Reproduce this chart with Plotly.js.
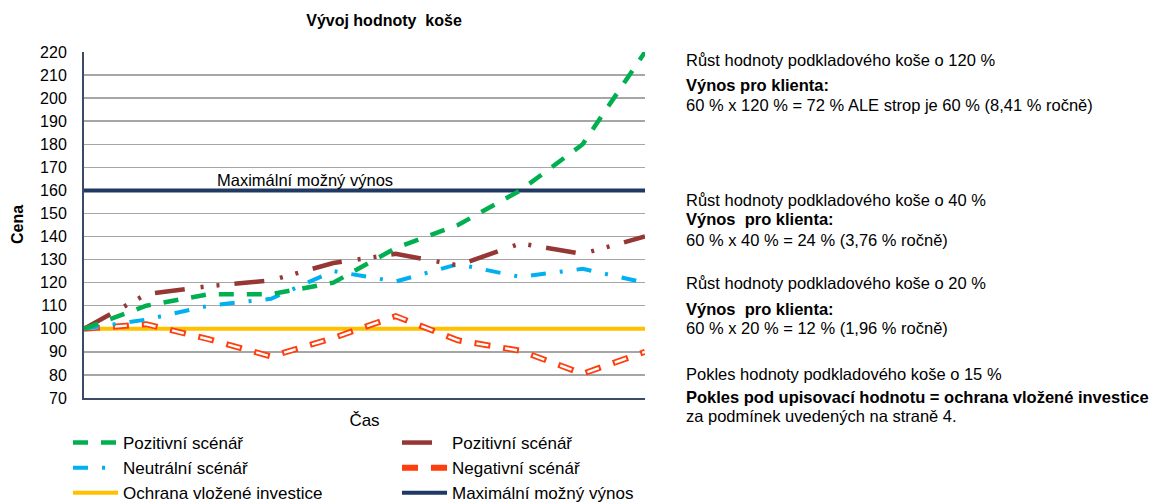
<!DOCTYPE html>
<html>
<head>
<meta charset="utf-8">
<script src="https://cdn.plot.ly/plotly-3.0.1.min.js"></script>
<style>
  body { margin: 0; background: #fff; }
  #graf { width: 1155px; height: 502px; }
</style>
</head>
<body>
<div id="graf"></div>
<script>
// casove body (osa x bez popisku)
const obdobi = [0, 1, 2, 3, 4, 5, 6, 7, 8, 9];

// scenare vyvoje hodnoty kose
const pozitivni = [100, 110, 115, 115, 120, 135, 145, 160, 180, 220];
const pozitivni2 = [100, 115, 118.5, 121, 128.5, 132.5, 127.5, 137, 132.5, 140];
const neutralni = [100, 104, 110, 113, 125, 120.5, 128, 122.5, 126, 120];
const negativni = [100, 102, 95.5, 88, 96, 105.5, 95, 90.5, 80.5, 90];

// hranice
const ochrana = [100, 100, 100, 100, 100, 100, 100, 100, 100, 100];
const maximum = [160, 160, 160, 160, 160, 160, 160, 160, 160, 160];

const nazvy = {
    pozitivni: 'Pozitivní scénář',
    neutralni: 'Neutrální scénář',
    negativni: 'Negativní scénář',
    ochrana: 'Ochrana vložené investice',
    maximum: 'Maximální možný výnos',
};

const FONT = 'Liberation Sans, Arial, sans-serif';

// plot area in pixels
const L = 84, R = 645, T = 52, B = 398, W = 1155, H = 502;
const px = x => (x - L) / (R - L);
const py = y => (B - y) / (B - T);

function line(y, name, color, width, dash, legend, rank, extra) {
    return Object.assign({
        x: obdobi,
        y: y,
        name: name,
        type: 'scatter',
        mode: 'lines',
        line: {color: color, width: width, dash: dash},
        legend: legend,
        legendrank: rank,
        legendgroup: name + rank,
        hoverinfo: 'skip',
    }, extra || {});
}

const data = [
    line(ochrana, nazvy.ochrana, '#ffc000', 4, 'solid', 'legend', 3),
    line(maximum, nazvy.maximum, '#1f3864', 4, 'solid', 'legend2', 3),
    // negativni scenar: duta carkovana cara (cervena + bila uvnitr)
    line(negativni, nazvy.negativni, '#ff3d0d', 6, '16px,13px', 'legend2', 2),
    line(negativni, nazvy.negativni, '#ffffff', 2.5, '0px,2px,12px,15px', 'legend2', 2, {showlegend: false}),
    line(neutralni, nazvy.neutralni, '#00b0f0', 4, '15px,14px,3px,14px', 'legend', 2),
    line(pozitivni2, nazvy.pozitivni, '#953735', 4.5, '30px,16px,3px,13px,3px,15px', 'legend2', 1),
    line(pozitivni, nazvy.pozitivni, '#00b050', 4.5, '15px,13px', 'legend', 1),
];

const textR = [
    {t: 'Růst hodnoty podkladového koše o 120 %', y: 60},
    {t: '<b>Výnos pro klienta:</b>', y: 85},
    {t: '60 % x 120 % = 72 % ALE strop je 60 % (8,41 % ročně)', y: 105},
    {t: 'Růst hodnoty podkladového koše o 40 %', y: 200},
    {t: '<b>Výnos  pro klienta:</b>', y: 219},
    {t: '60 % x 40 % = 24 % (3,76 % ročně)', y: 240},
    {t: 'Růst hodnoty podkladového koše o 20 %', y: 283},
    {t: '<b>Výnos  pro klienta:</b>', y: 309},
    {t: '60 % x 20 % = 12 % (1,96 % ročně)', y: 328},
    {t: 'Pokles hodnoty podkladového koše o 15 %', y: 374},
    {t: '<b>Pokles pod upisovací hodnotu = ochrana vložené investice</b>', y: 397},
    {t: 'za podmínek uvedených na straně 4.', y: 416},
];

const annotations = textR.map(a => ({
    text: a.t,
    xref: 'paper', yref: 'paper',
    x: px(684), y: py(a.y),
    xanchor: 'left', yanchor: 'middle',
    showarrow: false,
    font: {family: FONT, size: 16.5, color: '#000'},
}));

annotations.push({
    text: 'Maximální možný výnos',
    xref: 'paper', yref: 'y',
    x: px(215), y: 164.5,
    xanchor: 'left', yanchor: 'middle',
    showarrow: false,
    font: {family: FONT, size: 16.5, color: '#000'},
});

// popisek osy y
annotations.push({
    text: '<b>Cena</b>',
    xref: 'paper', yref: 'paper',
    x: px(17), y: py(225),
    xanchor: 'center', yanchor: 'middle',
    textangle: -90,
    showarrow: false,
    font: {family: FONT, size: 16, color: '#000'},
});

const legendBase = {
    orientation: 'v',
    xref: 'container', yref: 'container',
    yanchor: 'top', xanchor: 'left',
    y: 1 - 425 / H,
    bgcolor: 'rgba(0,0,0,0)',
    borderwidth: 0,
    font: {family: FONT, size: 17, color: '#000'},
    tracegroupgap: 0,
    itemwidth: 45,
};

const layout = {
    width: W,
    height: H,
    margin: {l: L, r: W - R, t: T, b: H - B, autoexpand: false},
    paper_bgcolor: '#fff',
    plot_bgcolor: '#fff',
    font: {family: FONT, size: 15, color: '#000'},
    title: {
        text: 'Vývoj hodnoty\u00a0 koše',
        font: {family: FONT, size: 16, weight: 'bold', color: '#000'},
        xref: 'container', yref: 'container',
        x: 384 / W, y: 1 - 20 / H,
        xanchor: 'center', yanchor: 'middle',
    },
    xaxis: {
        range: [0, 9],
        showticklabels: false,
        showgrid: false,
        zeroline: false,
        showline: true,
        linecolor: '#3b4a66',
        linewidth: 2,
        ticks: '',
        fixedrange: true,
        title: {text: 'Čas', font: {family: FONT, size: 17}, standoff: 15},
    },
    yaxis: {
        range: [70, 220],
        tickvals: [70, 80, 90, 100, 110, 120, 130, 140, 150, 160, 170, 180, 190, 200, 210, 220],
        showgrid: true,
        gridcolor: '#a6a6a6',
        gridwidth: 1.5,
        zeroline: false,
        showline: true,
        linecolor: '#3b4a66',
        linewidth: 2,
        ticks: 'outside',
        ticklen: 12,
        tickcolor: 'rgba(0,0,0,0)',
        tickfont: {family: FONT, size: 16, color: '#000'},
        fixedrange: true,
    },
    legend: Object.assign({}, legendBase, {x: 68 / W}),
    legend2: Object.assign({}, legendBase, {x: 397 / W}),
    annotations: annotations,
    showlegend: true,
};

Plotly.newPlot('graf', data, layout, {displayModeBar: false, staticPlot: true});
</script>
</body>
</html>
